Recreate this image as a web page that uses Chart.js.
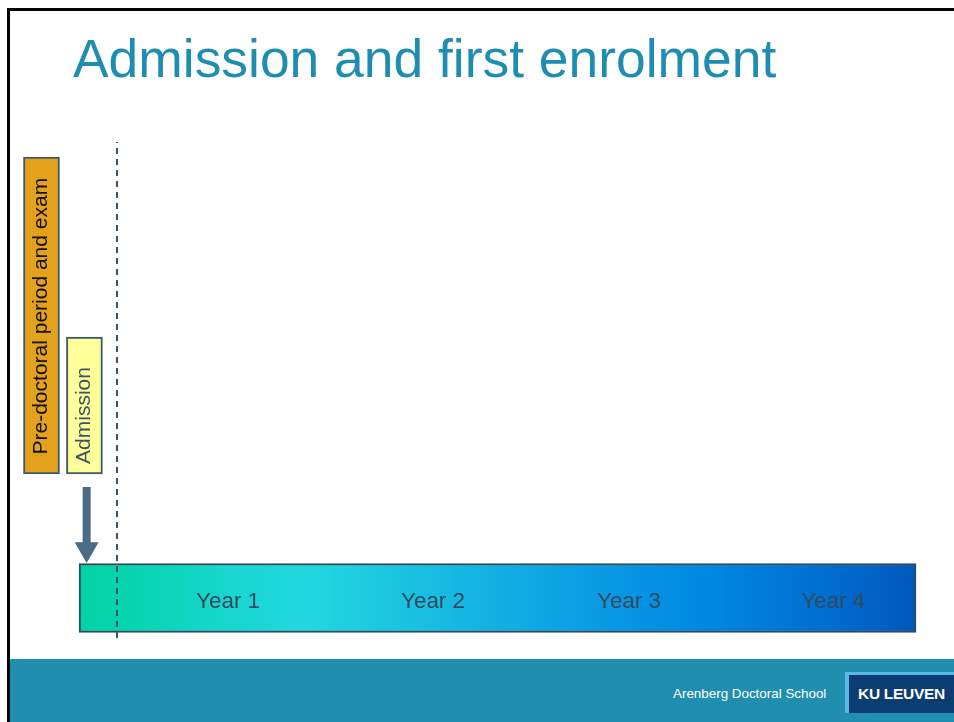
<!DOCTYPE html>
<html>
<head>
<meta charset="utf-8">
<script src="https://cdn.jsdelivr.net/npm/chart.js@4.4.1/dist/chart.umd.min.js"></script>
<style>
html,body{margin:0;padding:0;background:#fff;width:954px;height:722px;overflow:hidden;font-family:"Liberation Sans",Arial,sans-serif;}
#slide{position:relative;width:954px;height:722px;}
.bt{position:absolute;left:7px;top:8px;right:0;height:3px;background:#000;}
.bl{position:absolute;left:7px;top:8px;width:3px;bottom:0;background:#000;}
#title{position:absolute;left:73px;top:32px;font-size:53.4px;line-height:54px;color:#1F8DB2;white-space:nowrap;}
#footer{position:absolute;left:10px;top:659px;right:0;bottom:0;background:#1F8EAF;}
#ads{position:absolute;left:673px;top:686px;font-size:13.4px;line-height:16px;color:#fff;white-space:nowrap;}
#kuo{position:absolute;left:845px;top:672px;width:109px;height:41px;background:#5DB7E6;}
#kui{position:absolute;left:849px;top:675px;width:105px;height:38px;background:#0B3C72;color:#fff;font-weight:bold;font-size:15.5px;line-height:38px;text-align:center;white-space:nowrap;letter-spacing:-0.3px;}
#c{position:absolute;left:0;top:130px;}
</style>
</head>
<body>
<div id="slide">
  <div class="bt"></div>
  <div class="bl"></div>
  <div id="title">Admission and first enrolment</div>
  <div id="footer"></div>
  <div id="ads">Arenberg Doctoral School</div>
  <div id="kuo"></div>
  <div id="kui">KU LEUVEN</div>
  <canvas id="c" width="954" height="520"></canvas>
</div>
<script>
// ---- data (x in years relative to first enrolment, y in arbitrary vertical units 0..100) ----
const yearLabels = ['Year 1', 'Year 2', 'Year 3', 'Year 4'];
const yearLabelX = [0.556, 1.582, 2.563, 3.585];
const yearLabelY = 9.2;
const phdSpan = [-0.19, 4.0];
const phdRow = 10;
const boxLabels = ['Pre-doctoral period and exam', 'Admission'];
const boxX = [-0.378, -0.163];
const boxBottom = [33.85, 33.85];
const boxTop = [94.8, 60.2];
const boxLabelY = [64.2, 45.1];
const enrolmentX = 0;
const enrolmentLineY = [2.3, 97.7];
const arrowX = -0.152;
const arrowShaftY = [31.35, 20.4];
const arrowHeadY = 19.4;

// ---- styles ----
const gradStops = [
  [0.00, '#00D3A6'], [0.045, '#04D4AA'], [0.18, '#18D6D0'], [0.27, '#22D8DE'],
  [0.45, '#16B8E2'], [0.65, '#0896E4'], [0.75, '#0088E2'], [0.88, '#0070D2'], [1.00, '#0058BC']
];
const boxColors = ['#E4A11B', '#FFFF99'];
const boxTextColors = ['#111111', '#3A5468'];

const textPlugin = {
  id: 'texts',
  afterDatasetsDraw(chart) {
    const {ctx, scales: {x, y}} = chart;
    ctx.save();
    ctx.textAlign = 'center';
    ctx.textBaseline = 'middle';
    ctx.font = '22.4px "Liberation Sans", Arial, sans-serif';
    ctx.fillStyle = '#32495C';
    yearLabels.forEach((t, i) => {
      ctx.fillText(t, x.getPixelForValue(yearLabelX[i]), y.getPixelForValue(yearLabelY));
    });
    ctx.font = '21px "Liberation Sans", Arial, sans-serif';
    boxLabels.forEach((t, i) => {
      ctx.save();
      ctx.translate(x.getPixelForValue(boxX[i]), y.getPixelForValue(boxLabelY[i]));
      ctx.rotate(-Math.PI / 2);
      ctx.fillStyle = boxTextColors[i];
      ctx.fillText(t, 0, 0);
      ctx.restore();
    });
    ctx.restore();
  }
};

new Chart(document.getElementById('c'), {
  type: 'bar',
  data: {
    datasets: [
      {
        type: 'line',
        data: enrolmentLineY.map(v => ({x: enrolmentX, y: v})),
        borderColor: '#3B5467', borderWidth: 2, borderDash: [6, 5],
        pointRadius: 0, fill: false
      },
      {
        type: 'line',
        data: [{x: arrowX, y: arrowHeadY}],
        showLine: false, pointStyle: 'triangle', pointRadius: 13.8, rotation: 180,
        pointBackgroundColor: '#4A6A86', pointBorderWidth: 0, pointBorderColor: '#4A6A86'
      },
      {
        type: 'line',
        data: arrowShaftY.map(v => ({x: arrowX, y: v})),
        borderColor: '#4A6A86', borderWidth: 8, borderCapStyle: 'butt',
        pointRadius: 0, fill: false
      },
      {
        type: 'bar',
        indexAxis: 'x',
        data: boxX.map((v, i) => ({x: v, y: [boxBottom[i], boxTop[i]]})),
        backgroundColor: boxColors,
        borderColor: '#3E5A6D', borderWidth: 2, borderSkipped: false,
        barThickness: 36, grouped: false
      },
      {
        type: 'bar',
        indexAxis: 'y',
        data: [{y: phdRow, x: phdSpan}],
        backgroundColor: (c) => {
          const chart = c.chart;
          if (!chart.chartArea) return gradStops[0][1];
          const xs = chart.scales.x;
          const g = chart.ctx.createLinearGradient(xs.getPixelForValue(phdSpan[0]), 0, xs.getPixelForValue(phdSpan[1]), 0);
          gradStops.forEach(([p, col]) => g.addColorStop(p, col));
          return g;
        },
        borderColor: '#2D4A5F', borderWidth: 2, borderSkipped: false,
        barThickness: 69, grouped: false
      }
    ]
  },
  options: {
    responsive: false,
    devicePixelRatio: 1,
    animation: false,
    layout: {padding: 0, autoPadding: false},
    plugins: {legend: {display: false}, tooltip: {enabled: false}, title: {display: false}},
    scales: {
      x: {type: 'linear', min: -0.5857, max: 4.1902, display: false, offset: false, grid: {offset: false}},
      y: {type: 'linear', min: 0, max: 100, display: false, offset: false, grid: {offset: false}}
    }
  },
  plugins: [textPlugin]
});
</script>
</body>
</html>
